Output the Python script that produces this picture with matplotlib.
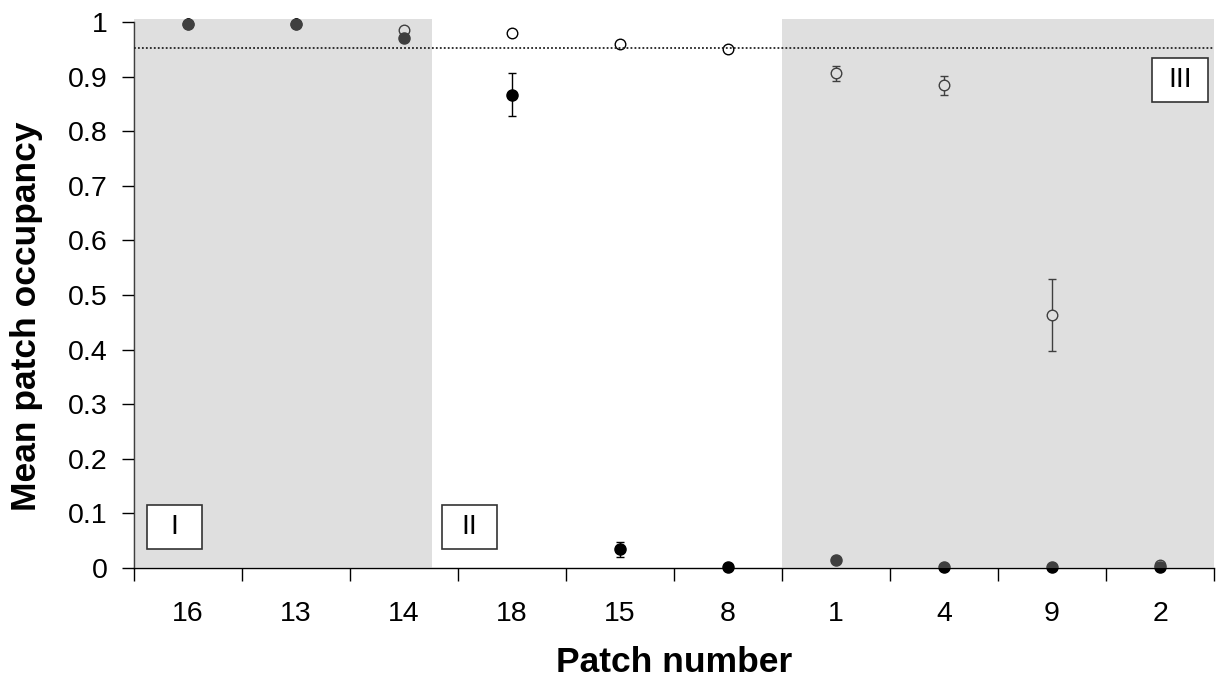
import matplotlib
matplotlib.use("Agg")
import matplotlib.pyplot as plt
from matplotlib.patches import Rectangle
import numpy as np

plt.rcParams['font.family'] = ['Liberation Sans', 'DejaVu Sans']

patches = ['16', '13', '14', '18', '15', '8', '1', '4', '9', '2']
open_mean = [0.997, 0.997, 0.986, 0.980, 0.959, 0.951, 0.906, 0.884, 0.463, 0.005]
open_err = [0.0, 0.0, 0.0, 0.0, 0.004, 0.004, 0.014, 0.018, 0.066, 0.0]
filled_mean = [0.997, 0.997, 0.971, 0.867, 0.034, 0.001, 0.015, 0.001, 0.001, 0.002]
filled_err = [0.0, 0.0, 0.0, 0.040, 0.014, 0.0, 0.0, 0.0, 0.0, 0.0]
threshold = 0.952
region_labels = ['I', 'II', 'III']
yticks = [0, 0.1, 0.2, 0.3, 0.4, 0.5, 0.6, 0.7, 0.8, 0.9, 1]
ytick_labels = ['0', '0.1', '0.2', '0.3', '0.4', '0.5', '0.6', '0.7', '0.8', '0.9', '1']

fig = plt.figure(figsize=(12.18, 6.82), dpi=100)
ax = fig.add_axes([134/1218, 1 - 568/682, (1214-134)/1218, (568-22)/682])

x = np.arange(len(patches))

ax.errorbar(x, open_mean, yerr=open_err, fmt='o', ms=7.6, mfc='white', mec='black',
            mew=1.0, ecolor='black', elinewidth=1.0, capsize=3, capthick=1.0,
            zorder=2, clip_on=False)
ax.errorbar(x, filled_mean, yerr=filled_err, fmt='o', ms=8.0, mfc='black', mec='black',
            mew=1.0, ecolor='black', elinewidth=1.0, capsize=3, capthick=1.0,
            zorder=2.5, clip_on=False)

# translucent shading over regions I and III
shade = dict(facecolor=(0.672, 0.672, 0.672), alpha=0.372, edgecolor='none', zorder=4, clip_on=False)
ax.add_patch(Rectangle((-0.5, 0), 2.756, 1.0055, **shade))
ax.add_patch(Rectangle((5.5, 0), 4.0, 1.0055, **shade))

ax.axhline(threshold, color='#222222', lw=1.3, ls=(0, (1, 1.2)), zorder=5)

# region boxes
boxes = [(-0.382, 0.034, 0.512, 0.081), (2.349, 0.034, 0.509, 0.081), (8.926, 0.853, 0.518, 0.081)]
for lab, (bx, by, bw, bh) in zip(region_labels, boxes):
    ax.add_patch(Rectangle((bx, by), bw, bh, facecolor='white', edgecolor='#333333', lw=1.2, zorder=6))
    ax.text(bx + bw/2, by + bh/2, lab, ha='center', va='center', fontsize=20.5, zorder=7)

ax.set_xlim(-0.5, 9.5)
ax.set_ylim(0, 1)
ax.set_xticks(np.arange(-0.5, 10, 1))
ax.set_xticklabels([])
ax.set_xticks(x, minor=True)
ax.set_xticklabels(patches, minor=True, fontsize=20.5)
ax.tick_params(axis='x', which='major', direction='out', length=9, width=1, color='black')
ax.tick_params(axis='x', which='minor', length=0, pad=24)
ax.set_yticks(yticks)
ax.set_yticklabels(ytick_labels, fontsize=20.5)
ax.tick_params(axis='y', direction='out', length=9, width=1, pad=10)

for s in ['top', 'right']:
    ax.spines[s].set_visible(False)
for s in ['left', 'bottom']:
    ax.spines[s].set_color('black')
    ax.spines[s].set_linewidth(1.0)

ax.set_xlabel('Patch number', fontsize=25.5, fontweight='bold', va='baseline')
ax.xaxis.set_label_coords(0.5, (568 - 672) / 546)
ax.set_ylabel('Mean patch occupancy', fontsize=25.5, fontweight='bold', va='center')
ax.yaxis.set_label_coords((27 - 134) / 1080, (568 - 316) / 546)

fig.savefig('out.png', dpi=100)
